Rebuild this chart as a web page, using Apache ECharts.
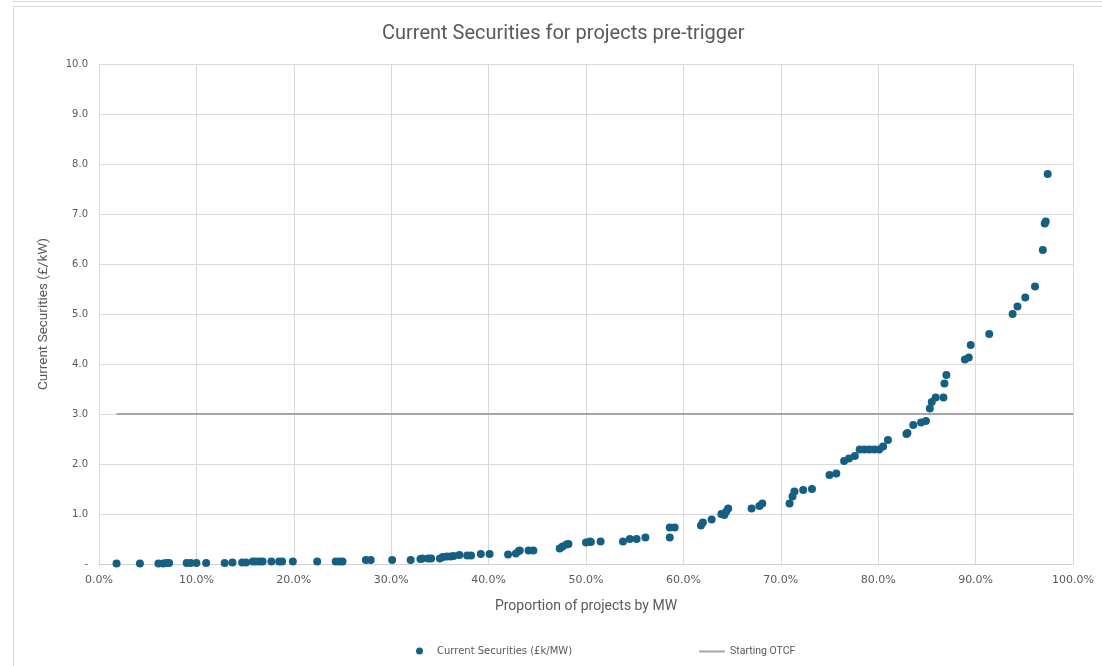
<!DOCTYPE html>
<html>
<head>
<meta charset="utf-8">
<script src="https://cdn.jsdelivr.net/npm/echarts@6/dist/echarts.min.js"></script>
<style>
html,body{margin:0;padding:0;background:#fff;}
#chart{width:1102px;height:666px;}
</style>
</head>
<body>
<div id="chart"></div>
<script>
const titleText = 'Current Securities for projects pre-trigger';
const seriesNames = ['Current Securities (£k/MW)', 'Starting OTCF'];
const xPct = [1.8,4.2,6.1,6.6,6.9,7.2,9.0,9.4,10.0,11.0,12.9,13.7,14.7,15.1,15.8,16.1,16.5,16.8,17.7,18.5,18.8,19.9,22.4,24.3,24.7,25.0,27.4,27.9,30.1,
  32.0,33.0,33.2,33.8,34.1,35.0,35.3,35.7,36.1,36.4,37.0,37.8,38.2,39.2,40.1,42.0,42.8,43.1,43.2,44.1,44.6,47.3,47.6,48.0,48.2,50.0,50.4,50.5,51.5,53.8,54.5,55.2,56.1,58.6,58.6,59.1,61.8,62.0,
  62.9,63.9,64.2,64.4,64.6,67.0,67.8,68.1,70.9,71.2,71.4,72.3,73.2,75.0,75.7,76.5,77.0,77.6,78.1,78.6,79.1,79.6,80.1,80.5,81.0,82.9,83.0,83.6,84.4,84.9,85.3,85.5,85.9,86.7,86.8,87.0,88.9,89.3,89.5,91.4,93.8,94.3,95.1,96.1,96.9,97.1,97.2,97.4];
const securities = [0.01,0.01,0.01,0.01,0.02,0.02,0.02,0.02,0.02,0.02,0.02,0.03,0.03,0.03,0.05,0.05,0.05,0.05,0.05,0.05,0.05,0.05,0.05,0.05,0.05,0.05,0.08,0.08,0.08,
  0.08,0.1,0.11,0.11,0.11,0.11,0.14,0.15,0.15,0.16,0.18,0.17,0.17,0.2,0.2,0.19,0.21,0.26,0.27,0.27,0.27,0.31,0.35,0.39,0.4,0.43,0.45,0.44,0.45,0.45,0.5,0.5,0.53,0.53,0.73,0.73,0.77,0.83,
  0.89,1.0,0.98,1.05,1.11,1.11,1.16,1.21,1.21,1.35,1.45,1.48,1.5,1.78,1.81,2.06,2.11,2.16,2.29,2.29,2.29,2.29,2.29,2.35,2.48,2.6,2.62,2.78,2.83,2.86,3.11,3.24,3.33,3.33,3.61,3.78,4.09,4.13,4.38,4.6,5.0,5.15,5.33,5.55,6.28,6.81,6.85,7.8];
const otcfX = [1.8, 100];
const otcfY = [3.0, 3.0];

const scatterData = xPct.map((x, i) => [x, securities[i]]);
const lineData = otcfX.map((x, i) => [x, otcfY[i]]);

const FONT = 'Roboto';
const SMALL = 'DejaVu Sans';
const TXT = '#595959';
const legendText = {fontFamily: SMALL, fontSize: 10, color: TXT};
const chart = echarts.init(document.getElementById('chart'));
chart.setOption({
  animation: false,
  backgroundColor: '#ffffff',
  textStyle: {fontFamily: FONT},
  graphic: [
    {type: 'rect', shape: {x: 13.5, y: 6.5, width: 1100, height: 700}, style: {fill: 'none', stroke: '#d9d9d9', lineWidth: 1}, silent: true},
    {type: 'line', shape: {x1: 13, y1: 1.5, x2: 1102, y2: 1.5}, style: {stroke: '#d9d9d9', lineWidth: 1}, silent: true}
  ],
  title: {
    text: titleText, left: 377, top: 19,
    textStyle: {fontFamily: FONT, fontSize: 20, fontWeight: 'normal', color: TXT}
  },
  legend: [
    {
      left: 411, top: 641,
      itemWidth: 25, itemHeight: 7, itemGap: 20,
      textStyle: legendText,
      data: [{name: seriesNames[0], icon: 'circle'}]
    },
    {
      left: 694, top: 641,
      itemWidth: 26, itemHeight: 7, itemGap: 2,
      textStyle: {fontFamily: FONT, fontSize: 10.5, color: TXT},
      data: [{name: seriesNames[1], icon: 'path://M0,0 L26,0 L26,2 L0,2 Z'}]
    }
  ],
  grid: {left: 99, right: 29, top: 64, bottom: 102, containLabel: false},
  xAxis: {
    type: 'value', min: 0, max: 100, interval: 10,
    name: 'Proportion of projects by MW', nameLocation: 'middle', nameGap: 35,
    nameTextStyle: {fontFamily: FONT, fontSize: 14, color: TXT},
    axisLine: {show: true, lineStyle: {color: '#d0d0d0', width: 1}},
    axisTick: {show: false},
    axisLabel: {fontFamily: SMALL, fontSize: 11, color: TXT, margin: 11, formatter: v => v.toFixed(1) + '%'},
    splitLine: {show: true, lineStyle: {color: '#d9d9d9', width: 1}}
  },
  yAxis: {
    type: 'value', min: 0, max: 10, interval: 1,
    name: 'Current Securities (£/kW)', nameLocation: 'middle', nameGap: 48,
    nameTextStyle: {fontFamily: FONT, fontSize: 13.5, color: TXT},
    axisLine: {show: true, lineStyle: {color: '#d9d9d9', width: 1}},
    axisTick: {show: false},
    axisLabel: {fontFamily: SMALL, fontSize: 10, color: TXT, margin: 11, formatter: v => v === 0 ? '-' : v.toFixed(1)},
    splitLine: {show: true, lineStyle: {color: '#d9d9d9', width: 1}}
  },
  series: [
    {
      name: seriesNames[0], type: 'scatter', data: scatterData,
      symbol: 'circle', symbolSize: 8,
      itemStyle: {color: '#156082', opacity: 1}, z: 3
    },
    {
      name: seriesNames[1], type: 'line', data: lineData,
      showSymbol: false, symbol: 'none',
      lineStyle: {color: '#a6a6a6', width: 2},
      itemStyle: {color: '#a6a6a6'}, z: 2
    }
  ]
});
</script>
</body>
</html>
